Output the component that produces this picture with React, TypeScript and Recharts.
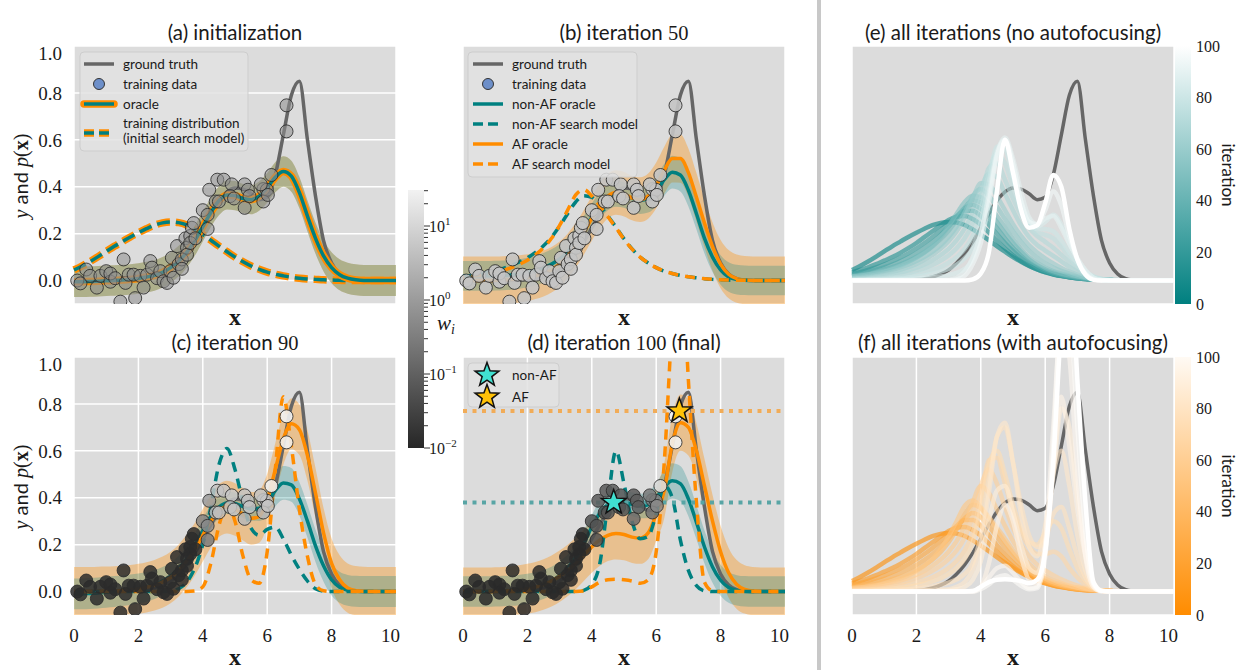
import React from "react";
import {
  Area,
  CartesianGrid,
  ComposedChart,
  Line,
  ReferenceLine,
  Scatter,
  XAxis,
  YAxis,
} from "recharts";

// shared x grid (step 0.25) for every curve
const X = [
  0, 0.25, 0.5, 0.75, 1, 1.25, 1.5, 1.75, 2, 2.25, 2.5, 2.75, 3, 3.25, 3.5,
  3.75, 4, 4.25, 4.5, 4.75, 5, 5.25, 5.5, 5.75, 6, 6.25, 6.5, 6.75, 7, 7.25,
  7.5, 7.75, 8, 8.25, 8.5, 8.75, 9, 9.25, 9.5, 9.75, 10,
];
const X_TICKS = [0, 2, 4, 6, 8, 10];
const Y_TICKS = [0, 0.2, 0.4, 0.6, 0.8, 1.0];
const CB_TICKS = [0, 20, 40, 60, 80, 100];

const truth = [
  0, 0, 0, 0, 0,
  0, 0.001, 0.002, 0.004, 0.008,
  0.015, 0.027, 0.045, 0.075, 0.115,
  0.165, 0.225, 0.285, 0.34, 0.378,
  0.395, 0.39, 0.37, 0.345, 0.355,
  0.45, 0.62, 0.79, 0.85, 0.6,
  0.36, 0.17, 0.075, 0.028, 0.008,
  0.002, 0, 0, 0, 0,
  0,
];

// (a) initialization
const trainDist = [
  0.045, 0.062, 0.081, 0.102, 0.124,
  0.146, 0.166, 0.186, 0.204, 0.221,
  0.236, 0.246, 0.25, 0.247, 0.237,
  0.218, 0.196, 0.172, 0.147, 0.123,
  0.1, 0.08, 0.062, 0.048, 0.036,
  0.027, 0.02, 0.014, 0.01, 0.007,
  0.005, 0.003, 0.002, 0.001, 0,
  0, 0, 0, 0, 0,
  0,
];
const meanA = [
  -0.005, -0.005, -0.004, -0.003, -0.001,
  0, 0.002, 0.005, 0.009, 0.015,
  0.022, 0.035, 0.055, 0.083, 0.12,
  0.17, 0.23, 0.29, 0.34, 0.365,
  0.362, 0.35, 0.345, 0.36, 0.395,
  0.44, 0.465, 0.445, 0.375, 0.275,
  0.18, 0.105, 0.055, 0.025, 0.01,
  0.003, 0, 0, 0, 0,
  0,
];
const stdA = [
  0.065, 0.065, 0.065, 0.065, 0.065,
  0.065, 0.065, 0.065, 0.065, 0.065,
  0.065, 0.065, 0.065, 0.065, 0.065,
  0.064, 0.063, 0.062, 0.062, 0.062,
  0.062, 0.062, 0.062, 0.062, 0.063,
  0.064, 0.065, 0.066, 0.066, 0.066,
  0.066, 0.066, 0.066, 0.066, 0.066,
  0.066, 0.066, 0.066, 0.066, 0.066,
  0.066,
];

// (b) iteration 50
const meanBNon = [
  0.02, 0.02, 0.02, 0.02, 0.021,
  0.022, 0.024, 0.028, 0.034, 0.042,
  0.054, 0.07, 0.092, 0.122, 0.165,
  0.215, 0.27, 0.32, 0.355, 0.37,
  0.365, 0.35, 0.342, 0.35, 0.38,
  0.43, 0.462, 0.45, 0.385, 0.285,
  0.18, 0.1, 0.045, 0.015, 0.004,
  0.001, 0, 0, 0, 0,
  0,
];
const stdBNon = [
  0.063, 0.063, 0.063, 0.063, 0.063,
  0.063, 0.063, 0.063, 0.063, 0.063,
  0.063, 0.063, 0.063, 0.063, 0.062,
  0.06, 0.058, 0.056, 0.055, 0.055,
  0.055, 0.056, 0.058, 0.06, 0.064,
  0.068, 0.07, 0.07, 0.069, 0.067,
  0.065, 0.064, 0.063, 0.063, 0.063,
  0.063, 0.063, 0.063, 0.063, 0.063,
  0.063,
];
const meanBAf = [
  0, 0, 0, 0, 0.001,
  0.002, 0.004, 0.007, 0.012, 0.02,
  0.03, 0.046, 0.07, 0.105, 0.15,
  0.205, 0.265, 0.32, 0.36, 0.375,
  0.368, 0.352, 0.345, 0.36, 0.405,
  0.47, 0.52, 0.52, 0.46, 0.355,
  0.245, 0.145, 0.07, 0.027, 0.008,
  0.002, 0, 0, 0, 0,
  0,
];
const stdBAf = [
  0.102, 0.102, 0.102, 0.102, 0.102,
  0.102, 0.102, 0.101, 0.1, 0.099,
  0.098, 0.097, 0.096, 0.095, 0.095,
  0.095, 0.095, 0.095, 0.095, 0.095,
  0.095, 0.095, 0.095, 0.096, 0.098,
  0.1, 0.102, 0.103, 0.103, 0.103,
  0.103, 0.103, 0.103, 0.103, 0.103,
  0.103, 0.103, 0.103, 0.103, 0.103,
  0.103,
];
const searchBNon = [
  0.018, 0.022, 0.027, 0.034, 0.042,
  0.052, 0.064, 0.079, 0.097, 0.12,
  0.148, 0.185, 0.232, 0.285, 0.335,
  0.362, 0.355, 0.32, 0.275, 0.228,
  0.178, 0.135, 0.1, 0.075, 0.055,
  0.04, 0.03, 0.022, 0.016, 0.012,
  0.008, 0.005, 0.003, 0.002, 0.001,
  0.001, 0, 0, 0, 0,
  0,
];
const searchBAf = [
  0.015, 0.018, 0.022, 0.028, 0.035,
  0.044, 0.055, 0.069, 0.087, 0.11,
  0.14, 0.18, 0.235, 0.3, 0.365,
  0.388, 0.36, 0.318, 0.272, 0.225,
  0.176, 0.134, 0.1, 0.075, 0.055,
  0.04, 0.03, 0.022, 0.016, 0.012,
  0.008, 0.005, 0.003, 0.002, 0.001,
  0.001, 0, 0, 0, 0,
  0,
];

// (c) iteration 90
const meanCNon = [
  -0.01, -0.01, -0.008, -0.006, -0.003,
  0, 0.004, 0.008, 0.013, 0.02,
  0.03, 0.045, 0.066, 0.097, 0.14,
  0.195, 0.26, 0.32, 0.36, 0.378,
  0.375, 0.362, 0.352, 0.355, 0.38,
  0.43, 0.463, 0.455, 0.395, 0.3,
  0.195, 0.11, 0.05, 0.018, 0.005,
  0.001, 0, 0, 0, 0,
  0,
];
const stdCNon = [
  0.066, 0.066, 0.066, 0.066, 0.066,
  0.066, 0.066, 0.065, 0.064, 0.063,
  0.062, 0.06, 0.058, 0.056, 0.054,
  0.052, 0.05, 0.048, 0.047, 0.047,
  0.047, 0.048, 0.05, 0.054, 0.06,
  0.067, 0.072, 0.072, 0.071, 0.07,
  0.069, 0.068, 0.067, 0.066, 0.066,
  0.066, 0.066, 0.066, 0.066, 0.066,
  0.066,
];
const meanCAf = [
  0, 0, 0, 0.001, 0.002,
  0.003, 0.005, 0.008, 0.012, 0.018,
  0.027, 0.04, 0.06, 0.09, 0.13,
  0.18, 0.24, 0.3, 0.345, 0.36,
  0.35, 0.33, 0.312, 0.32, 0.39,
  0.52, 0.65, 0.715, 0.69, 0.58,
  0.42, 0.25, 0.12, 0.05, 0.015,
  0.004, 0.001, 0, 0, 0,
  0,
];
const stdCAf = [
  0.105, 0.105, 0.105, 0.105, 0.105,
  0.105, 0.105, 0.105, 0.106, 0.107,
  0.108, 0.109, 0.11, 0.111, 0.112,
  0.112, 0.112, 0.112, 0.112, 0.112,
  0.112, 0.112, 0.112, 0.112, 0.112,
  0.112, 0.11, 0.108, 0.108, 0.108,
  0.107, 0.106, 0.106, 0.105, 0.105,
  0.105, 0.105, 0.105, 0.105, 0.105,
  0.105,
];
const searchCNon = [
  0, 0, 0, 0, 0,
  0, 0, 0, 0, 0,
  0, 0.001, 0.003, 0.012, 0.04,
  0.1, 0.2, 0.36, 0.54, 0.61,
  0.52, 0.38, 0.27, 0.24, 0.265,
  0.275, 0.225, 0.155, 0.095, 0.045,
  0.012, 0.002, 0, 0, 0,
  0, 0, 0, 0, 0,
  0,
];
const searchCAf = [
  0, 0, 0, 0, 0,
  0, 0, 0, 0, 0,
  0, 0, 0, 0, 0,
  0.002, 0.02, 0.12, 0.28, 0.37,
  0.3, 0.15, 0.05, 0.035, 0.17,
  0.52, 0.83, 0.62, 0.35, 0.15,
  0.03, 0.003, 0, 0, 0,
  0, 0, 0, 0, 0,
  0,
];

// (d) iteration 100 (final)
const meanDNon = [
  0, 0, 0, 0, 0.001,
  0.002, 0.004, 0.007, 0.012, 0.019,
  0.03, 0.045, 0.068, 0.1, 0.145,
  0.205, 0.275, 0.335, 0.37, 0.385,
  0.382, 0.372, 0.365, 0.37, 0.4,
  0.445, 0.472, 0.46, 0.395, 0.295,
  0.19, 0.105, 0.048, 0.017, 0.005,
  0.001, 0, 0, 0, 0,
  0,
];
const stdDNon = [
  0.065, 0.065, 0.065, 0.065, 0.065,
  0.065, 0.065, 0.065, 0.064, 0.063,
  0.062, 0.061, 0.06, 0.058, 0.056,
  0.054, 0.052, 0.05, 0.05, 0.05,
  0.05, 0.05, 0.052, 0.056, 0.062,
  0.07, 0.075, 0.075, 0.074, 0.072,
  0.07, 0.068, 0.066, 0.065, 0.065,
  0.065, 0.065, 0.065, 0.065, 0.065,
  0.065,
];
const meanDAf = [
  0, 0, 0, 0, 0.001,
  0.002, 0.004, 0.007, 0.012, 0.019,
  0.03, 0.045, 0.065, 0.09, 0.12,
  0.155, 0.19, 0.22, 0.24, 0.247,
  0.243, 0.232, 0.228, 0.25, 0.33,
  0.43, 0.63, 0.72, 0.7, 0.6,
  0.45, 0.3, 0.17, 0.08, 0.03,
  0.009, 0.002, 0, 0, 0,
  0,
];
const stdDAf = [
  0.103, 0.103, 0.103, 0.103, 0.103,
  0.103, 0.104, 0.105, 0.106, 0.107,
  0.108, 0.109, 0.11, 0.11, 0.11,
  0.11, 0.11, 0.11, 0.11, 0.11,
  0.11, 0.11, 0.11, 0.112, 0.114,
  0.117, 0.12, 0.12, 0.12, 0.118,
  0.115, 0.112, 0.109, 0.106, 0.104,
  0.103, 0.103, 0.103, 0.103, 0.103,
  0.103,
];
const searchDNon = [
  0, 0, 0, 0, 0,
  0, 0, 0, 0, 0,
  0, 0, 0, 0, 0,
  0.005, 0.03, 0.12, 0.38, 0.6,
  0.46, 0.3, 0.225, 0.235, 0.33,
  0.45, 0.4, 0.22, 0.09, 0.025,
  0.003, 0, 0, 0, 0,
  0, 0, 0, 0, 0,
  0,
];
const searchDAf = [
  0, 0, 0, 0, 0,
  0, 0, 0, 0, 0,
  0, 0, 0, 0, 0,
  0.002, 0.02, 0.04, 0.05, 0.052,
  0.05, 0.045, 0.035, 0.05, 0.17,
  0.55, 1.15, 1.5, 0.9, 0.38,
  0.04, 0.003, 0, 0, 0,
  0, 0, 0, 0, 0,
  0,
];

// (e) search model over iterations, no autofocusing
const e10 = [
  0.035, 0.045, 0.056, 0.07, 0.085,
  0.1, 0.118, 0.138, 0.16, 0.185,
  0.21, 0.235, 0.258, 0.272, 0.275,
  0.262, 0.238, 0.205, 0.17, 0.137,
  0.108, 0.083, 0.063, 0.047, 0.035,
  0.026, 0.019, 0.014, 0.01, 0.007,
  0.005, 0.003, 0.002, 0.001, 0,
  0, 0, 0, 0, 0,
  0,
];
const e20 = [
  0.028, 0.036, 0.045, 0.056, 0.068,
  0.082, 0.098, 0.116, 0.137, 0.16,
  0.186, 0.214, 0.245, 0.275, 0.298,
  0.298, 0.275, 0.238, 0.198, 0.16,
  0.126, 0.096, 0.072, 0.053, 0.039,
  0.028, 0.02, 0.014, 0.01, 0.007,
  0.005, 0.003, 0.002, 0.001, 0,
  0, 0, 0, 0, 0,
  0,
];
const e30 = [
  0.024, 0.03, 0.037, 0.046, 0.056,
  0.068, 0.082, 0.098, 0.117, 0.139,
  0.164, 0.194, 0.23, 0.27, 0.31,
  0.322, 0.305, 0.268, 0.224, 0.18,
  0.14, 0.106, 0.078, 0.057, 0.041,
  0.029, 0.021, 0.015, 0.01, 0.007,
  0.005, 0.003, 0.002, 0.001, 0,
  0, 0, 0, 0, 0,
  0,
];
const e40 = [
  0.02, 0.025, 0.031, 0.038, 0.047,
  0.057, 0.069, 0.083, 0.1, 0.12,
  0.145, 0.175, 0.212, 0.258, 0.31,
  0.342, 0.333, 0.295, 0.25, 0.203,
  0.16, 0.122, 0.09, 0.066, 0.048,
  0.035, 0.025, 0.018, 0.012, 0.008,
  0.005, 0.003, 0.002, 0.001, 0,
  0, 0, 0, 0, 0,
  0,
];
const e55 = [
  0.016, 0.02, 0.025, 0.031, 0.038,
  0.046, 0.056, 0.068, 0.083, 0.101,
  0.123, 0.15, 0.185, 0.23, 0.29,
  0.36, 0.39, 0.36, 0.315, 0.262,
  0.21, 0.165, 0.127, 0.097, 0.074,
  0.056, 0.041, 0.029, 0.019, 0.012,
  0.007, 0.004, 0.002, 0.001, 0,
  0, 0, 0, 0, 0,
  0,
];
const e60 = [
  0.012, 0.015, 0.019, 0.024, 0.03,
  0.037, 0.046, 0.057, 0.071, 0.088,
  0.109, 0.135, 0.168, 0.21, 0.27,
  0.35, 0.415, 0.41, 0.36, 0.3,
  0.24, 0.19, 0.15, 0.12, 0.095,
  0.073, 0.054, 0.038, 0.025, 0.015,
  0.008, 0.004, 0.002, 0.001, 0,
  0, 0, 0, 0, 0,
  0,
];
const e65 = [
  0.009, 0.011, 0.014, 0.018, 0.022,
  0.028, 0.035, 0.044, 0.055, 0.069,
  0.086, 0.108, 0.135, 0.172, 0.222,
  0.295, 0.39, 0.455, 0.44, 0.37,
  0.3, 0.235, 0.185, 0.152, 0.128,
  0.105, 0.082, 0.058, 0.038, 0.022,
  0.011, 0.005, 0.002, 0.001, 0,
  0, 0, 0, 0, 0,
  0,
];
const e70 = [
  0.006, 0.008, 0.01, 0.013, 0.016,
  0.02, 0.025, 0.032, 0.041, 0.052,
  0.066, 0.084, 0.107, 0.138, 0.18,
  0.245, 0.35, 0.48, 0.5, 0.43,
  0.35, 0.28, 0.225, 0.19, 0.165,
  0.14, 0.11, 0.08, 0.052, 0.03,
  0.015, 0.007, 0.003, 0.001, 0,
  0, 0, 0, 0, 0,
  0,
];
const e75 = [
  0.004, 0.005, 0.006, 0.008, 0.01,
  0.013, 0.016, 0.021, 0.027, 0.035,
  0.045, 0.058, 0.076, 0.1, 0.135,
  0.19, 0.3, 0.46, 0.54, 0.5,
  0.4, 0.3, 0.24, 0.205, 0.195,
  0.18, 0.145, 0.1, 0.062, 0.034,
  0.016, 0.006, 0.002, 0, 0,
  0, 0, 0, 0, 0,
  0,
];
const e80 = [
  0.002, 0.003, 0.004, 0.005, 0.006,
  0.008, 0.01, 0.013, 0.017, 0.022,
  0.029, 0.038, 0.05, 0.068, 0.095,
  0.14, 0.25, 0.42, 0.57, 0.56,
  0.44, 0.32, 0.25, 0.22, 0.22,
  0.21, 0.17, 0.12, 0.075, 0.04,
  0.018, 0.007, 0.002, 0, 0,
  0, 0, 0, 0, 0,
  0,
];
const e85 = [
  0.001, 0.001, 0.002, 0.002, 0.003,
  0.004, 0.005, 0.006, 0.008, 0.01,
  0.013, 0.017, 0.023, 0.033, 0.05,
  0.09, 0.2, 0.38, 0.55, 0.6,
  0.48, 0.34, 0.26, 0.23, 0.25,
  0.28, 0.24, 0.16, 0.09, 0.04,
  0.013, 0.003, 0, 0, 0,
  0, 0, 0, 0, 0,
  0,
];
const e95 = [
  0, 0, 0, 0, 0,
  0, 0, 0, 0, 0,
  0, 0, 0.001, 0.005, 0.02,
  0.07, 0.16, 0.33, 0.53, 0.6,
  0.5, 0.34, 0.25, 0.24, 0.3,
  0.38, 0.32, 0.19, 0.09, 0.03,
  0.006, 0, 0, 0, 0,
  0, 0, 0, 0, 0,
  0,
];

// (f) search model over iterations, with autofocusing
const f20 = [
  0.028, 0.036, 0.045, 0.056, 0.068,
  0.082, 0.098, 0.116, 0.137, 0.16,
  0.186, 0.215, 0.248, 0.28, 0.305,
  0.305, 0.28, 0.24, 0.198, 0.158,
  0.124, 0.094, 0.07, 0.052, 0.038,
  0.027, 0.019, 0.013, 0.009, 0.006,
  0.004, 0.003, 0.002, 0.001, 0,
  0, 0, 0, 0, 0,
  0,
];
const f30 = [
  0.022, 0.028, 0.035, 0.044, 0.054,
  0.066, 0.079, 0.095, 0.113, 0.135,
  0.16, 0.19, 0.226, 0.268, 0.312,
  0.335, 0.318, 0.278, 0.232, 0.186,
  0.145, 0.11, 0.081, 0.059, 0.043,
  0.031, 0.022, 0.015, 0.01, 0.007,
  0.005, 0.003, 0.002, 0.001, 0,
  0, 0, 0, 0, 0,
  0,
];
const f40 = [
  0.018, 0.023, 0.028, 0.035, 0.043,
  0.052, 0.063, 0.076, 0.092, 0.112,
  0.136, 0.168, 0.21, 0.265, 0.33,
  0.37, 0.355, 0.31, 0.26, 0.21,
  0.163, 0.123, 0.09, 0.065, 0.047,
  0.034, 0.024, 0.017, 0.012, 0.008,
  0.005, 0.003, 0.002, 0.001, 0,
  0, 0, 0, 0, 0,
  0,
];
const f55 = [
  0.013, 0.016, 0.02, 0.025, 0.031,
  0.038, 0.047, 0.058, 0.072, 0.089,
  0.11, 0.136, 0.17, 0.215, 0.28,
  0.38, 0.45, 0.42, 0.35, 0.28,
  0.215, 0.16, 0.118, 0.088, 0.066,
  0.049, 0.036, 0.025, 0.017, 0.011,
  0.006, 0.003, 0.002, 0.001, 0,
  0, 0, 0, 0, 0,
  0,
];
const f60 = [
  0.01, 0.012, 0.015, 0.019, 0.024,
  0.03, 0.037, 0.046, 0.057, 0.071,
  0.088, 0.11, 0.138, 0.175, 0.23,
  0.32, 0.45, 0.52, 0.46, 0.36,
  0.27, 0.2, 0.15, 0.115, 0.09,
  0.07, 0.052, 0.037, 0.025, 0.015,
  0.008, 0.004, 0.002, 0.001, 0,
  0, 0, 0, 0, 0,
  0,
];
const f65 = [
  0.006, 0.008, 0.01, 0.012, 0.015,
  0.019, 0.024, 0.03, 0.038, 0.048,
  0.061, 0.078, 0.1, 0.13, 0.175,
  0.25, 0.4, 0.56, 0.57, 0.46,
  0.34, 0.25, 0.19, 0.16, 0.16,
  0.17, 0.15, 0.1, 0.06, 0.03,
  0.012, 0.004, 0.001, 0, 0,
  0, 0, 0, 0, 0,
  0,
];
const f70 = [
  0.004, 0.005, 0.006, 0.008, 0.01,
  0.013, 0.016, 0.02, 0.026, 0.033,
  0.043, 0.056, 0.074, 0.1, 0.14,
  0.21, 0.36, 0.54, 0.6, 0.5,
  0.37, 0.27, 0.21, 0.2, 0.25,
  0.3, 0.27, 0.18, 0.1, 0.045,
  0.015, 0.004, 0.001, 0, 0,
  0, 0, 0, 0, 0,
  0,
];
const f75 = [
  0.002, 0.002, 0.003, 0.004, 0.005,
  0.006, 0.008, 0.01, 0.013, 0.017,
  0.022, 0.029, 0.038, 0.052, 0.075,
  0.12, 0.24, 0.46, 0.66, 0.7,
  0.55, 0.37, 0.24, 0.19, 0.22,
  0.33, 0.36, 0.27, 0.15, 0.06,
  0.015, 0.003, 0, 0, 0,
  0, 0, 0, 0, 0,
  0,
];
const f80 = [
  0.001, 0.001, 0.001, 0.002, 0.002,
  0.002, 0.003, 0.003, 0.004, 0.005,
  0.006, 0.008, 0.01, 0.02, 0.04,
  0.09, 0.2, 0.42, 0.66, 0.72,
  0.55, 0.33, 0.19, 0.15, 0.28,
  0.5, 0.6, 0.45, 0.24, 0.09,
  0.02, 0.003, 0, 0, 0,
  0, 0, 0, 0, 0,
  0,
];
const f85 = [
  0, 0, 0, 0, 0,
  0, 0, 0, 0.001, 0.001,
  0.002, 0.003, 0.005, 0.01, 0.02,
  0.05, 0.13, 0.3, 0.43, 0.45,
  0.34, 0.2, 0.1, 0.08, 0.2,
  0.5, 0.78, 0.7, 0.4, 0.16,
  0.04, 0.005, 0, 0, 0,
  0, 0, 0, 0, 0,
  0,
];
const f95 = [
  0, 0, 0, 0, 0,
  0, 0, 0, 0, 0,
  0, 0, 0, 0, 0,
  0, 0.02, 0.06, 0.1, 0.11,
  0.08, 0.04, 0.015, 0.02, 0.2,
  0.7, 1.15, 1.0, 0.5, 0.15,
  0.02, 0, 0, 0, 0,
  0, 0, 0, 0, 0,
  0,
];
const f98 = [
  0, 0, 0, 0, 0,
  0, 0, 0, 0, 0,
  0, 0, 0, 0, 0,
  0, 0.01, 0.03, 0.06, 0.07,
  0.05, 0.025, 0.01, 0.015, 0.15,
  0.62, 1.2, 1.2, 0.7, 0.25,
  0.03, 0.002, 0, 0, 0,
  0, 0, 0, 0, 0,
  0,
];

const E_ITERS = [0, 10, 20, 30, 40, 50, 55, 60, 65, 70, 75, 80, 85, 90, 95, 100];
const E_CURVES = [
  trainDist, e10, e20, e30, e40, searchBNon, e55, e60, e65, e70, e75, e80, e85,
  searchCNon, e95, searchDNon,
];
const F_ITERS = [0, 10, 20, 30, 40, 50, 55, 60, 65, 70, 75, 80, 85, 90, 95, 98, 100];
const F_CURVES = [
  trainDist, e10, f20, f30, f40, searchBAf, f55, f60, f65, f70, f75, f80, f85,
  searchCAf, f95, f98, searchDAf,
];

// training data, split by region
const loX = [
  0.1, 0.2, 0.38, 0.5, 0.71, 0.82, 1.0, 1.13, 1.13, 1.28, 1.44, 1.54, 1.6, 1.7,
  1.85, 1.9, 2.06, 2.16, 2.27, 2.37, 2.42, 2.58, 2.68, 2.78, 2.89, 2.99, 3.04,
  3.09, 3.2, 3.25, 3.35, 3.35, 3.46, 3.51, 3.51, 3.61, 3.61, 3.66, 3.72, 3.77,
];
const loY = [
  0.0, -0.012, 0.047, 0.02, -0.03, 0.02, 0.04, -0.005, 0.03, 0.01, -0.09, 0.09,
  -0.01, 0.025, 0.025, -0.075, 0.02, -0.03, 0.025, 0.083, 0.055, 0.01, 0.04,
  -0.003, -0.01, 0.04, 0.097, 0.012, 0.147, 0.07, 0.09, 0.05, 0.18, 0.14, 0.11,
  0.19, 0.16, 0.225, 0.245, 0.18,
];
const midX = [
  4.0, 4.15, 4.15, 4.2, 4.4, 4.5, 4.45, 4.65, 4.9, 4.85, 4.97, 5.3, 5.4, 5.3,
  5.45, 5.88, 5.99, 5.88, 6.02, 5.8,
];
const midY = [
  0.3, 0.28, 0.22, 0.387, 0.337, 0.337, 0.43, 0.43, 0.41, 0.36, 0.35, 0.41,
  0.387, 0.31, 0.36, 0.39, 0.387, 0.337, 0.365, 0.41,
];
const hiX = [6.13, 6.6, 6.6];
const hiY = [0.45, 0.636, 0.747];

// importance weights w_i
const wLoC = 0.012;
const wMidC = [0.4, 0.5, 0.3, 1, 3, 4, 5, 5, 6, 4, 5, 5, 4, 3, 5, 4, 5, 3, 5, 5];
const wHiC = [25, 30, 30];
const wLoD = 0.011;
const wMidD = [
  0.05, 0.06, 0.05, 0.08, 0.05, 0.06, 0.07, 0.08, 0.07, 0.06, 0.06, 0.07, 0.09,
  0.15, 0.08, 0.3, 0.4, 0.2, 0.5, 0.25,
];
const wHiD = [12, 30, 30];

const starNon = { x: 4.68, y: 0.38 };
const starAf = { x: 6.72, y: 0.77 };

// ---------- styling ----------
const SERIF = "'Liberation Serif', 'DejaVu Serif', serif";
const SANS = "Lato, 'Open Sans', sans-serif";
const BG = "#dcdcdc";
const TEAL = "#008080";
const ORANGE = "#ff8c00";
const TRUTH = "#666666";
const INK = "#1a1a1a";

const PLOT_W = 322;
const PLOT_H = 258;
const COL_X = [74, 463, 852];
const ROW_Y = [46, 357];
const PAD_L = 64;
const PAD_T = 4;
const PAD_R = 4;
const PAD_B = 44;

type Row = Record<string, number | number[]>;
type Pt = { x: number; y: number; fill: string; op: number };

function buildRows(
  lines: Record<string, number[]>,
  bands: Record<string, [number[], number[]]> = {}
): Row[] {
  return X.map((x, i) => {
    const row: Row = { x };
    Object.entries(lines).forEach(([k, v]) => {
      row[k] = v[i];
    });
    Object.entries(bands).forEach(([k, [m, s]]) => {
      row[k] = [m[i] - s[i], m[i] + s[i]];
    });
    return row;
  });
}

function grayOf(w: number) {
  const t = Math.min(1, Math.max(0, (Math.log10(w) + 2) / 3.49));
  const v = Math.round(255 * (0.15 + 0.8 * t));
  return `rgb(${v},${v},${v})`;
}

function mixWhite(rgb: [number, number, number], t: number) {
  const c = rgb.map((v) => Math.round(v + (255 - v) * t));
  return `rgb(${c[0]},${c[1]},${c[2]})`;
}

function makePts(xs: number[], ys: number[], fill: (i: number) => string, op: number): Pt[] {
  return xs.map((x, i) => ({ x, y: ys[i], fill: fill(i), op }));
}

const allX = [...loX, ...midX, ...hiX];
const allY = [...loY, ...midY, ...hiY];
const ptsA = makePts(allX, allY, () => "#8e8e8e", 0.55);
const ptsB = makePts(allX, allY, () => "#c4c4c4", 0.9);
const ptsC = [
  ...makePts(loX, loY, () => grayOf(wLoC), 0.85),
  ...makePts(midX, midY, (i) => grayOf(wMidC[i]), 0.85),
  ...makePts(hiX, hiY, (i) => grayOf(wHiC[i]), 0.9),
];
const ptsD = [
  ...makePts(loX, loY, () => grayOf(wLoD), 0.85),
  ...makePts(midX, midY, (i) => grayOf(wMidD[i]), 0.85),
  ...makePts(hiX, hiY, (i) => grayOf(wHiD[i]), 0.9),
];

const rowsA = buildRows({ truth, dist: trainDist, mean: meanA }, { band: [meanA, stdA] });
const rowsB = buildRows(
  { truth, meanNon: meanBNon, meanAf: meanBAf, searchNon: searchBNon, searchAf: searchBAf },
  { bandNon: [meanBNon, stdBNon], bandAf: [meanBAf, stdBAf] }
);
const rowsC = buildRows(
  { truth, meanNon: meanCNon, meanAf: meanCAf, searchNon: searchCNon, searchAf: searchCAf },
  { bandNon: [meanCNon, stdCNon], bandAf: [meanCAf, stdCAf] }
);
const rowsD = buildRows(
  { truth, meanNon: meanDNon, meanAf: meanDAf, searchNon: searchDNon, searchAf: searchDAf },
  { bandNon: [meanDNon, stdDNon], bandAf: [meanDAf, stdDAf] }
);
const rowsE = buildRows({
  truth,
  ...Object.fromEntries(E_ITERS.map((it, k) => [`it${it}`, E_CURVES[k]])),
});
const rowsF = buildRows({
  truth,
  ...Object.fromEntries(F_ITERS.map((it, k) => [`it${it}`, F_CURVES[k]])),
});

// ---------- series helpers ----------
function curve(key: string, stroke: string, width: number, dash?: string, opacity = 1, offset = 0) {
  return (
    <Line
      key={`${key}-${stroke}-${width}`}
      dataKey={key}
      type="monotone"
      stroke={stroke}
      strokeWidth={width}
      strokeDasharray={dash}
      strokeDashoffset={offset}
      strokeOpacity={opacity}
      dot={false}
      activeDot={false}
      isAnimationActive={false}
    />
  );
}

function band(key: string, fill: string, opacity: number) {
  return (
    <Area
      key={`${key}-${fill}`}
      dataKey={key}
      type="monotone"
      stroke="none"
      fill={fill}
      fillOpacity={opacity}
      activeDot={false}
      isAnimationActive={false}
    />
  );
}

function renderDot(p: any) {
  const d = p.payload as Pt;
  return (
    <circle cx={p.cx} cy={p.cy} r={6.5} fill={d.fill} fillOpacity={d.op} stroke="#2b2b2b" strokeWidth={1} strokeOpacity={0.85} />
  );
}

function starPath(cx: number, cy: number, R: number, r: number) {
  let d = "";
  for (let k = 0; k < 10; k++) {
    const rad = k % 2 === 0 ? R : r;
    const a = -Math.PI / 2 + (k * Math.PI) / 5;
    d += `${k ? "L" : "M"}${(cx + rad * Math.cos(a)).toFixed(2)},${(cy + rad * Math.sin(a)).toFixed(2)}`;
  }
  return d + "Z";
}

function points(key: string, data: Pt[]) {
  return <Scatter key={key} data={data} dataKey="y" shape={renderDot} isAnimationActive={false} />;
}

function star(key: string, pt: { x: number; y: number }, fill: string) {
  return (
    <Scatter
      key={key}
      data={[pt]}
      dataKey="y"
      isAnimationActive={false}
      shape={(p: any) => (
        <path d={starPath(p.cx, p.cy, 13, 5.3)} fill={fill} stroke="#111" strokeWidth={1.5} />
      )}
    />
  );
}

function Frame({
  col,
  row,
  data,
  yTicks = false,
  xTicks = false,
  children,
}: {
  col: number;
  row: number;
  data: Row[];
  yTicks?: boolean;
  xTicks?: boolean;
  children: React.ReactNode;
}) {
  return (
    <div style={{ position: "absolute", left: COL_X[col] - PAD_L, top: ROW_Y[row] - PAD_T }}>
      <ComposedChart
        width={PAD_L + PLOT_W + PAD_R}
        height={PAD_T + PLOT_H + PAD_B}
        data={data}
        margin={{ top: PAD_T, right: PAD_R, bottom: 0, left: 0 }}
      >
        <CartesianGrid fill={BG} stroke="#ffffff" strokeWidth={1.5} />
        <XAxis
          type="number"
          dataKey="x"
          domain={[0, 10]}
          ticks={X_TICKS}
          height={PAD_B}
          axisLine={false}
          tickLine={false}
          tickMargin={8}
          tick={xTicks ? { fontFamily: SERIF, fontSize: 19, fill: INK } : false}
        />
        <YAxis
          type="number"
          domain={[-0.1, 1]}
          ticks={Y_TICKS}
          allowDataOverflow
          width={PAD_L}
          axisLine={false}
          tickLine={false}
          tickMargin={6}
          tickFormatter={(v: number) => v.toFixed(1)}
          tick={yTicks ? { fontFamily: SERIF, fontSize: 19, fill: INK } : false}
        />
        {children}
      </ComposedChart>
    </div>
  );
}

function comparePanel(pts: Pt[]) {
  return [
    band("bandAf", ORANGE, 0.35),
    band("bandNon", TEAL, 0.25),
    curve("truth", TRUTH, 3.5),
    curve("meanNon", TEAL, 3.5),
    curve("meanAf", ORANGE, 3.5),
    curve("searchNon", TEAL, 3.5, "10 7"),
    curve("searchAf", ORANGE, 3.5, "10 7", 1, 8.5),
    points("pts", pts),
  ];
}

// ---------- overlay: titles, labels, legends, colorbars ----------
function YLabel({ cy }: { cy: number }) {
  return (
    <text transform={`translate(28,${cy}) rotate(-90)`} textAnchor="middle" fontSize={20} fill={INK}>
      <tspan fontFamily={SERIF} fontStyle="italic">y</tspan>
      <tspan fontFamily={SANS}> and </tspan>
      <tspan fontFamily={SERIF} fontStyle="italic">p</tspan>
      <tspan fontFamily={SERIF}>(</tspan>
      <tspan fontFamily={SERIF} fontWeight="bold">x</tspan>
      <tspan fontFamily={SERIF}>)</tspan>
    </text>
  );
}

function XLabel({ col, row }: { col: number; row: number }) {
  return (
    <text x={COL_X[col] + PLOT_W / 2} y={row === 0 ? 325 : 665} textAnchor="middle" fontFamily={SERIF} fontWeight="bold" fontSize={24} fill={INK}>
      x
    </text>
  );
}

function Title({ col, row, children }: { col: number; row: number; children: React.ReactNode }) {
  return (
    <text x={COL_X[col] + PLOT_W / 2} y={row === 0 ? 39.5 : 350} textAnchor="middle" fontFamily={SANS} fontSize={20.5} fill={INK}>
      {children}
    </text>
  );
}

function IterColorbar({ row, id }: { row: number; id: string }) {
  const top = ROW_Y[row];
  const x = COL_X[2] + PLOT_W + 1;
  return (
    <g>
      <rect x={x} y={top} width={16} height={PLOT_H} fill={`url(#${id})`} />
      {CB_TICKS.map((v) => (
        <text key={v} x={x + 21} y={top + PLOT_H * (1 - v / 100) + 5.5} fontFamily={SERIF} fontSize={16} fill={INK}>
          {v}
        </text>
      ))}
      <text transform={`translate(1222,${top + PLOT_H / 2}) rotate(90)`} textAnchor="middle" fontFamily={SANS} fontSize={17} fill={INK}>
        iteration
      </text>
    </g>
  );
}

function WeightColorbar() {
  const x = 408;
  const top = 190;
  const bottom = 448;
  const dec = 74;
  const majors = [-2, -1, 0, 1];
  const minors: number[] = [];
  majors.forEach((d) => {
    for (let m = 2; m <= 9; m++) {
      const y = bottom - (d + 2 + Math.log10(m)) * dec;
      if (y >= top) minors.push(y);
    }
  });
  return (
    <g>
      <rect x={x} y={top} width={16} height={bottom - top} fill="url(#gW)" />
      {minors.map((y, i) => (
        <line key={i} x1={x + 16} x2={x + 20} y1={y} y2={y} stroke="#333" strokeWidth={1} />
      ))}
      {majors.map((d) => {
        const y = bottom - (d + 2) * dec;
        return (
          <g key={d}>
            <line x1={x + 16} x2={x + 22} y1={y} y2={y} stroke="#333" strokeWidth={1} />
            <text x={x + 21} y={y + 5.5} fontFamily={SERIF} fontSize={16} fill={INK}>
              10
              <tspan dy={-7} fontSize={11}>{d < 0 ? `\u2212${-d}` : `${d}`}</tspan>
            </text>
          </g>
        );
      })}
      <text x={437} y={330} fontFamily={SERIF} fontStyle="italic" fontSize={21} fill={INK}>
        w<tspan dy={4} fontSize={14}>i</tspan>
      </text>
    </g>
  );
}

const LEG_FONT = { fontFamily: SANS, fontSize: 13.5, fill: INK };

function LegendA() {
  const x1 = 84;
  const x2 = 114;
  return (
    <g>
      <rect x={80} y={52} width={168} height={99} rx={4} fill="#e2e2e2" fillOpacity={0.85} stroke="#cdcdcd" />
      <line x1={x1} x2={x2} y1={64} y2={64} stroke={TRUTH} strokeWidth={3.5} />
      <text x={123} y={68.5} {...LEG_FONT}>ground truth</text>
      <circle cx={99} cy={84} r={5.5} fill="#6d8fc9" stroke="#333" />
      <text x={123} y={88.5} {...LEG_FONT}>training data</text>
      <line x1={x1} x2={x2} y1={104} y2={104} stroke={ORANGE} strokeWidth={7.5} strokeLinecap="round" />
      <line x1={x1} x2={x2} y1={104} y2={104} stroke={TEAL} strokeWidth={3.5} />
      <text x={123} y={108.5} {...LEG_FONT}>oracle</text>
      <line x1={x1} x2={x2} y1={133} y2={133} stroke={ORANGE} strokeWidth={7.5} strokeDasharray="10 5" />
      <line x1={x1} x2={x2} y1={133} y2={133} stroke={TEAL} strokeWidth={3.5} strokeDasharray="10 5" />
      <text x={123} y={127.5} {...LEG_FONT}>training distribution</text>
      <text x={123} y={143} {...LEG_FONT}>(initial search model)</text>
    </g>
  );
}

function LegendB() {
  const x1 = 473;
  const x2 = 503;
  const rows: [string, string, string | null][] = [
    ["non-AF oracle", TEAL, null],
    ["non-AF search model", TEAL, "10 5"],
    ["AF oracle", ORANGE, null],
    ["AF search model", ORANGE, "10 5"],
  ];
  return (
    <g>
      <rect x={468} y={52} width={169} height={125} rx={4} fill="#e2e2e2" fillOpacity={0.85} stroke="#cdcdcd" />
      <line x1={x1} x2={x2} y1={64} y2={64} stroke={TRUTH} strokeWidth={3.5} />
      <text x={512} y={68.5} {...LEG_FONT}>ground truth</text>
      <circle cx={488} cy={84} r={5.5} fill="#6d8fc9" stroke="#333" />
      <text x={512} y={88.5} {...LEG_FONT}>training data</text>
      {rows.map(([label, color, dash], i) => (
        <g key={label}>
          <line x1={x1} x2={x2} y1={104 + i * 20} y2={104 + i * 20} stroke={color} strokeWidth={3.5} strokeDasharray={dash ?? undefined} />
          <text x={512} y={108.5 + i * 20} {...LEG_FONT}>{label}</text>
        </g>
      ))}
    </g>
  );
}

function LegendD() {
  return (
    <g>
      <rect x={468} y={363} width={91} height={44} rx={4} fill="#e2e2e2" fillOpacity={0.85} stroke="#cdcdcd" />
      <path d={starPath(487, 375, 12.5, 5.1)} fill="#40e0d0" stroke="#111" strokeWidth={1.5} />
      <text x={512} y={379.5} {...LEG_FONT}>non-AF</text>
      <path d={starPath(487, 397, 12.5, 5.1)} fill="#ffc107" stroke="#111" strokeWidth={1.5} />
      <text x={512} y={401.5} {...LEG_FONT}>AF</text>
    </g>
  );
}

function Overlay() {
  return (
    <svg width={1241} height={670} style={{ position: "absolute", left: 0, top: 0, pointerEvents: "none" }}>
      <defs>
        <linearGradient id="gE" x1="0" y1="1" x2="0" y2="0">
          <stop offset="0" stopColor={TEAL} />
          <stop offset="1" stopColor="#ffffff" />
        </linearGradient>
        <linearGradient id="gF" x1="0" y1="1" x2="0" y2="0">
          <stop offset="0" stopColor={ORANGE} />
          <stop offset="1" stopColor="#fffaf4" />
        </linearGradient>
        <linearGradient id="gW" x1="0" y1="1" x2="0" y2="0">
          <stop offset="0" stopColor="#262626" />
          <stop offset="1" stopColor="#f2f2f2" />
        </linearGradient>
      </defs>
      <rect x={817} y={0} width={4} height={670} fill="#c8c8c8" />

      <Title col={0} row={0}>(a) initialization</Title>
      <Title col={1} row={0}>
        (b) iteration <tspan fontFamily={SERIF}>50</tspan>
      </Title>
      <Title col={0} row={1}>
        (c) iteration <tspan fontFamily={SERIF}>90</tspan>
      </Title>
      <Title col={1} row={1}>
        (d) iteration <tspan fontFamily={SERIF}>100</tspan> (final)
      </Title>
      <Title col={2} row={0}>(e) all iterations (no autofocusing)</Title>
      <Title col={2} row={1}>(f) all iterations (with autofocusing)</Title>

      {[0, 1, 2].map((c) => [0, 1].map((r) => <XLabel key={`${c}-${r}`} col={c} row={r} />))}
      <YLabel cy={176} />
      <YLabel cy={487} />

      <LegendA />
      <LegendB />
      <LegendD />
      <WeightColorbar />
      <IterColorbar row={0} id="gE" />
      <IterColorbar row={1} id="gF" />
    </svg>
  );
}

const TEAL_RGB: [number, number, number] = [0, 128, 128];
const ORANGE_RGB: [number, number, number] = [255, 140, 0];

export default function App() {
  return (
    <div
      style={{
        position: "absolute",
        left: 0,
        top: 0,
        width: 1241,
        height: 670,
        background: "#ffffff",
        overflow: "hidden",
      }}
    >
      <Frame col={0} row={0} data={rowsA} yTicks>
        {[
          band("band", ORANGE, 0.35),
          band("band", TEAL, 0.25),
          curve("truth", TRUTH, 3.5),
          curve("dist", ORANGE, 7.5, "13 6"),
          curve("dist", TEAL, 3.5, "13 6"),
          curve("mean", ORANGE, 7.5),
          curve("mean", TEAL, 3.5),
          points("pts", ptsA),
        ]}
      </Frame>
      <Frame col={1} row={0} data={rowsB}>
        {comparePanel(ptsB)}
      </Frame>
      <Frame col={0} row={1} data={rowsC} yTicks xTicks>
        {comparePanel(ptsC)}
      </Frame>
      <Frame col={1} row={1} data={rowsD} xTicks>
        {[
          ...comparePanel(ptsD),
          <ReferenceLine key="hAf" y={starAf.y} stroke="#f1ac58" strokeWidth={4} strokeDasharray="4 5.5" />,
          <ReferenceLine key="hNon" y={starNon.y} stroke="#58a5a5" strokeWidth={4} strokeDasharray="4 5.5" />,
          star("sNon", starNon, "#40e0d0"),
          star("sAf", starAf, "#ffc107"),
        ]}
      </Frame>
      <Frame col={2} row={0} data={rowsE}>
        {[
          curve("truth", TRUTH, 3.5),
          ...E_ITERS.map((it) =>
            curve(`it${it}`, mixWhite(TEAL_RGB, it / 100), 4.5, undefined, it === 100 ? 1 : 0.6)
          ),
        ]}
      </Frame>
      <Frame col={2} row={1} data={rowsF} xTicks>
        {[
          curve("truth", TRUTH, 3.5),
          ...F_ITERS.map((it) =>
            curve(`it${it}`, mixWhite(ORANGE_RGB, it / 100), 4.5, undefined, it === 100 ? 1 : 0.6)
          ),
        ]}
      </Frame>
      <Overlay />
    </div>
  );
}
